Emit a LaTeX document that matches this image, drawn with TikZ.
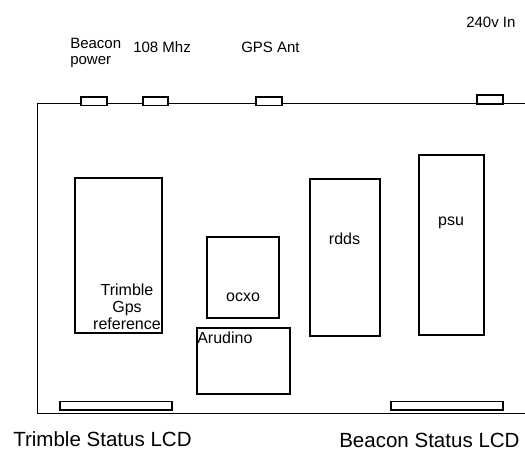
\documentclass[tikz,border=0pt]{standalone}
\usepackage{fontspec}
\setmainfont{Liberation Sans}
\begin{document}
\begin{tikzpicture}[x=0.75pt,y=0.75pt,yscale=-1,xscale=1,
  part/.style={line width=1pt},
  port/.style={line width=1pt,fill=white},
  lbl/.style={inner sep=0pt,font=\fontsize{12}{12.75}\selectfont},
  toplbl/.style={inner sep=0pt,font=\fontsize{11.25}{12}\selectfont},
  lcdlbl/.style={inner sep=0pt,font=\fontsize{15.4}{18}\selectfont}]
\useasboundingbox (0,0) rectangle (525,451);

%Shape: Enclosure
\draw [part] (526,103.5) -- (37.5,103.5) -- (37.5,413.5) -- (526,413.5) ;
%Shape: Rectangle (beacon power port)
\draw [port] (81,97) rectangle (107,105.5) ;
%Shape: Rectangle (108 Mhz port)
\draw [port] (143,97) rectangle (168,105.5) ;
%Shape: Rectangle (gps ant port)
\draw [port] (256,97) rectangle (282,105.5) ;
%Shape: Rectangle (mains port)
\draw [port] (477,95) rectangle (503,104) ;
%Shape: Rectangle (trimble gps)
\draw [part] (75,178) rectangle (162,333) ;
%Shape: Rectangle (ocxo)
\draw [part] (207,237) rectangle (279,318) ;
%Shape: Rectangle (arudino)
\draw [part] (197,328) rectangle (290,394) ;
%Shape: Rectangle (rdds)
\draw [part] (310,179) rectangle (380,336) ;
%Shape: Rectangle (psu)
\draw [part] (419,155) rectangle (484,335) ;
%Shape: Rectangle (trimble lcd)
\draw [part] (60,401.5) rectangle (172,410) ;
%Shape: Rectangle (beacon lcd)
\draw [part] (391,401.5) rectangle (503,410) ;

% Text Node
\node (beaconpwr) [toplbl,anchor=north west,align=left] at (70,38) {Beacon\\power};
% Text Node
\node (rfout) [toplbl,anchor=base west] at (133,52) {108 Mhz};
% Text Node
\node (gpsant) [toplbl,anchor=base west] at (241,52) {GPS Ant};
% Text Node
\node (mainsin) [toplbl,anchor=base west] at (466,27) {240v In};
% Text Node
\node (trimble) [lbl,anchor=north,align=center] at (127,284) {Trimble\\Gps\\reference};
% Text Node
\node (ocxo) [lbl,anchor=base] at (243,301) {ocxo};
% Text Node
\node (arudino) [lbl,anchor=base west] at (197,343) {Arudino};
% Text Node
\node (rdds) [lbl,anchor=base] at (344.5,244) {rdds};
% Text Node
\node (psu) [lbl,anchor=base] at (451,225) {psu};
% Text Node
\node (trimblelcd) [lcdlbl,anchor=base west] at (13,446) {Trimble Status LCD};
% Text Node
\node (beaconlcd) [lcdlbl,anchor=base west] at (339,447) {Beacon Status LCD};

\end{tikzpicture}
\end{document}
